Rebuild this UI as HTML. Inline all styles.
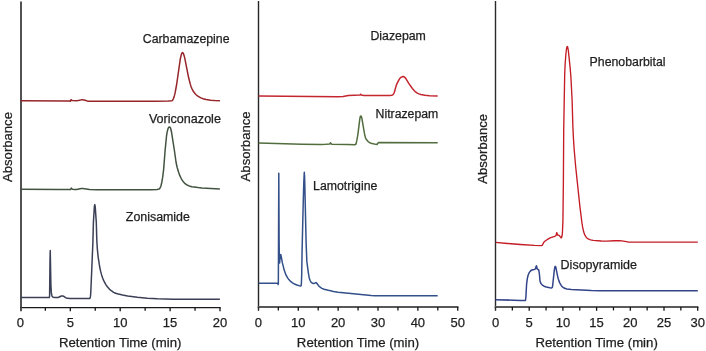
<!DOCTYPE html>
<html><head><meta charset="utf-8"><style>
html,body{margin:0;padding:0;background:#fff;}
svg{display:block;will-change:transform;}
.t{font-family:"Liberation Sans",sans-serif;font-size:13px;fill:#1e1e1e;stroke:#1e1e1e;stroke-width:0.25px;}
</style></head><body>
<svg width="706" height="351" viewBox="0 0 706 351">
<rect width="706" height="351" fill="#fff"/>
<line x1="21.0" y1="1.5" x2="21.0" y2="308.3" stroke="#525252" stroke-width="2.0"/>
<line x1="20.0" y1="307.6" x2="220.70000000000002" y2="307.6" stroke="#1a1a1a" stroke-width="1.4"/>
<line x1="21.00" y1="307.6" x2="21.00" y2="311.30" stroke="#525252" stroke-width="2.0"/>
<text x="20.40" y="327.1" text-anchor="middle" class="t">0</text>
<line x1="45.35" y1="307.6" x2="45.35" y2="310.80" stroke="#141414" stroke-width="1.3"/>
<line x1="70.30" y1="307.6" x2="70.30" y2="311.30" stroke="#141414" stroke-width="1.3"/>
<text x="70.30" y="327.1" text-anchor="middle" class="t">5</text>
<line x1="95.25" y1="307.6" x2="95.25" y2="310.80" stroke="#141414" stroke-width="1.3"/>
<line x1="120.20" y1="307.6" x2="120.20" y2="311.30" stroke="#141414" stroke-width="1.3"/>
<text x="120.20" y="327.1" text-anchor="middle" class="t">10</text>
<line x1="145.15" y1="307.6" x2="145.15" y2="310.80" stroke="#141414" stroke-width="1.3"/>
<line x1="170.10" y1="307.6" x2="170.10" y2="311.30" stroke="#141414" stroke-width="1.3"/>
<text x="170.10" y="327.1" text-anchor="middle" class="t">15</text>
<line x1="195.05" y1="307.6" x2="195.05" y2="310.80" stroke="#141414" stroke-width="1.3"/>
<line x1="220.00" y1="307.6" x2="220.00" y2="311.30" stroke="#141414" stroke-width="1.3"/>
<text x="220.00" y="327.1" text-anchor="middle" class="t">20</text>
<text x="120.20" y="346.9" text-anchor="middle" class="t" style="font-size:13.2px">Retention Time (min)</text>
<line x1="258.5" y1="1.0" x2="258.5" y2="308.0" stroke="#262626" stroke-width="1.4"/>
<line x1="257.8" y1="307.0" x2="458.45" y2="307.0" stroke="#585858" stroke-width="2.0"/>
<line x1="258.50" y1="307.0" x2="258.50" y2="310.80" stroke="#262626" stroke-width="1.4"/>
<text x="258.40" y="327.1" text-anchor="middle" class="t">0</text>
<line x1="278.33" y1="307.0" x2="278.33" y2="310.40" stroke="#141414" stroke-width="1.3"/>
<line x1="298.27" y1="307.0" x2="298.27" y2="310.80" stroke="#141414" stroke-width="1.3"/>
<text x="298.27" y="327.1" text-anchor="middle" class="t">10</text>
<line x1="318.20" y1="307.0" x2="318.20" y2="310.40" stroke="#141414" stroke-width="1.3"/>
<line x1="338.14" y1="307.0" x2="338.14" y2="310.80" stroke="#141414" stroke-width="1.3"/>
<text x="338.14" y="327.1" text-anchor="middle" class="t">20</text>
<line x1="358.07" y1="307.0" x2="358.07" y2="310.40" stroke="#141414" stroke-width="1.3"/>
<line x1="378.01" y1="307.0" x2="378.01" y2="310.80" stroke="#141414" stroke-width="1.3"/>
<text x="378.01" y="327.1" text-anchor="middle" class="t">30</text>
<line x1="397.94" y1="307.0" x2="397.94" y2="310.40" stroke="#141414" stroke-width="1.3"/>
<line x1="417.88" y1="307.0" x2="417.88" y2="310.80" stroke="#141414" stroke-width="1.3"/>
<text x="417.88" y="327.1" text-anchor="middle" class="t">40</text>
<line x1="437.81" y1="307.0" x2="437.81" y2="310.40" stroke="#141414" stroke-width="1.3"/>
<line x1="457.75" y1="307.0" x2="457.75" y2="310.80" stroke="#141414" stroke-width="1.3"/>
<text x="457.75" y="327.1" text-anchor="middle" class="t">50</text>
<text x="358.07" y="346.9" text-anchor="middle" class="t" style="font-size:13.2px">Retention Time (min)</text>
<line x1="495.5" y1="1.0" x2="495.5" y2="308.0" stroke="#2a2a2a" stroke-width="1.4"/>
<line x1="494.8" y1="307.0" x2="698.4000000000001" y2="307.0" stroke="#5a5a5a" stroke-width="2.0"/>
<line x1="495.50" y1="307.0" x2="495.50" y2="310.80" stroke="#2a2a2a" stroke-width="1.4"/>
<text x="495.50" y="327.1" text-anchor="middle" class="t">0</text>
<line x1="512.35" y1="307.0" x2="512.35" y2="310.40" stroke="#141414" stroke-width="1.3"/>
<line x1="529.20" y1="307.0" x2="529.20" y2="310.80" stroke="#141414" stroke-width="1.3"/>
<text x="529.20" y="327.1" text-anchor="middle" class="t">5</text>
<line x1="546.05" y1="307.0" x2="546.05" y2="310.40" stroke="#141414" stroke-width="1.3"/>
<line x1="562.90" y1="307.0" x2="562.90" y2="310.80" stroke="#141414" stroke-width="1.3"/>
<text x="562.90" y="327.1" text-anchor="middle" class="t">10</text>
<line x1="579.75" y1="307.0" x2="579.75" y2="310.40" stroke="#141414" stroke-width="1.3"/>
<line x1="596.60" y1="307.0" x2="596.60" y2="310.80" stroke="#141414" stroke-width="1.3"/>
<text x="596.60" y="327.1" text-anchor="middle" class="t">15</text>
<line x1="613.45" y1="307.0" x2="613.45" y2="310.40" stroke="#141414" stroke-width="1.3"/>
<line x1="630.30" y1="307.0" x2="630.30" y2="310.80" stroke="#141414" stroke-width="1.3"/>
<text x="630.30" y="327.1" text-anchor="middle" class="t">20</text>
<line x1="647.15" y1="307.0" x2="647.15" y2="310.40" stroke="#141414" stroke-width="1.3"/>
<line x1="664.00" y1="307.0" x2="664.00" y2="310.80" stroke="#141414" stroke-width="1.3"/>
<text x="664.00" y="327.1" text-anchor="middle" class="t">25</text>
<line x1="680.85" y1="307.0" x2="680.85" y2="310.40" stroke="#141414" stroke-width="1.3"/>
<line x1="697.70" y1="307.0" x2="697.70" y2="310.80" stroke="#141414" stroke-width="1.3"/>
<text x="697.70" y="327.1" text-anchor="middle" class="t">30</text>
<text x="596.60" y="346.9" text-anchor="middle" class="t" style="font-size:13.2px">Retention Time (min)</text>
<text x="0" y="0" class="t" style="font-size:13.117px" transform="translate(12.4,182.00) rotate(-90)">Absorbance</text>
<text x="0" y="0" class="t" style="font-size:13.117px" transform="translate(249.9,181.40) rotate(-90)">Absorbance</text>
<text x="0" y="0" class="t" style="font-size:13.061px" transform="translate(486.7,183.70) rotate(-90)">Absorbance</text>
<text x="142.80" y="43.4" class="t" style="font-size:12.299px">Carbamazepine</text>
<text x="148.90" y="122.8" class="t" style="font-size:12.592px">Voriconazole</text>
<text x="125.80" y="221.4" class="t" style="font-size:12.422px">Zonisamide</text>
<text x="370.40" y="40.4" class="t" style="font-size:12.333px">Diazepam</text>
<text x="375.60" y="118.2" class="t" style="font-size:12.277px">Nitrazepam</text>
<text x="313.10" y="189.7" class="t" style="font-size:12.304px">Lamotrigine</text>
<text x="589.60" y="66.0" class="t" style="font-size:12.328px">Phenobarbital</text>
<text x="560.60" y="269.4" class="t" style="font-size:12.509px">Disopyramide</text>
<path d="M20.60,100.80 L65.60,100.93 L69.50,101.00 L70.30,101.30 L71.10,99.70 L72.20,100.60 L76.85,100.66 L79.35,100.34 L81.35,99.87 L82.35,99.81 L85.10,100.32 L87.60,101.16 L92.35,101.27 L155.35,101.28 L168.35,101.09 L171.85,100.75 L172.35,100.57 L172.60,100.33 L173.60,98.26 L174.35,95.93 L175.10,92.90 L176.60,84.76 L180.35,58.73 L181.35,54.36 L182.10,52.96 L182.60,52.60 L183.10,53.05 L183.60,54.00 L184.60,57.40 L188.60,77.53 L190.35,84.39 L191.10,86.68 L192.10,89.05 L193.10,90.96 L194.35,92.79 L196.10,94.74 L197.85,96.13 L200.85,97.89 L203.10,98.78 L206.10,99.50 L210.60,100.18 L214.60,100.57 L219.90,100.80" fill="none" stroke="#972529" stroke-width="1.5" stroke-linejoin="round" stroke-linecap="butt"/>
<path d="M20.60,189.30 L60.10,189.40 L70.50,189.60 L71.30,188.10 L72.30,189.20 L74.35,189.45 L76.60,189.46 L81.35,188.53 L82.85,188.40 L89.60,189.57 L97.10,189.78 L151.10,189.69 L157.10,189.49 L159.00,189.10 L159.60,188.63 L160.20,187.80 L160.85,186.19 L161.60,183.27 L162.60,177.68 L163.60,169.79 L165.10,150.50 L166.50,136.20 L167.10,132.42 L168.10,128.42 L168.60,127.55 L169.10,127.09 L169.40,127.00 L170.10,127.43 L170.60,128.21 L171.60,132.53 L174.40,150.50 L176.10,162.50 L177.10,167.24 L178.60,172.29 L179.85,175.65 L181.35,178.79 L183.35,181.85 L185.10,183.67 L186.50,184.70 L189.10,185.91 L191.85,186.69 L198.10,187.58 L201.85,187.97 L219.90,189.00" fill="none" stroke="#435341" stroke-width="1.5" stroke-linejoin="round" stroke-linecap="butt"/>
<path d="M20.60,297.50 L49.20,297.50 L49.35,297.28 L49.60,296.00 L50.00,260.00 L50.25,250.50 L50.90,285.00 L51.35,292.88 L51.85,295.47 L52.35,296.65 L53.10,297.17 L53.85,297.39 L58.10,297.40 L58.60,297.27 L61.35,296.02 L62.10,295.90 L62.85,296.05 L64.10,296.55 L66.10,297.97 L69.60,298.49 L71.85,298.60 L89.60,298.60 L89.85,298.39 L90.35,296.95 L90.60,295.00 L90.85,291.00 L92.85,243.50 L93.40,222.40 L94.35,206.96 L94.60,205.19 L94.80,204.60 L95.20,206.50 L96.30,222.40 L96.80,240.00 L97.35,249.11 L98.10,256.55 L99.70,267.00 L100.60,271.15 L101.60,274.89 L102.60,277.96 L103.85,280.89 L105.85,284.55 L107.35,286.77 L109.35,289.09 L111.60,290.98 L113.60,292.31 L115.60,293.24 L118.35,294.09 L122.60,295.08 L127.60,295.95 L137.35,297.30 L147.35,298.25 L157.60,298.80 L173.35,299.15 L187.85,299.30 L219.90,299.30" fill="none" stroke="#3b4057" stroke-width="1.5" stroke-linejoin="round" stroke-linecap="butt"/>
<path d="M258.60,96.00 L338.10,96.74 L343.10,96.48 L348.35,95.47 L360.00,95.00 L360.60,94.20 L361.40,95.10 L363.85,95.49 L390.10,95.40 L391.35,95.30 L392.10,95.18 L392.60,94.92 L393.35,94.23 L393.85,93.41 L394.35,92.27 L396.35,85.10 L397.35,82.88 L399.35,79.16 L400.00,78.30 L401.10,77.28 L402.10,76.81 L403.10,76.60 L404.10,76.85 L405.10,77.53 L406.35,79.38 L408.60,83.19 L412.35,88.50 L415.10,91.55 L417.35,93.13 L418.85,93.84 L420.85,94.51 L424.85,95.29 L429.60,95.68 L437.70,95.90" fill="none" stroke="#c4262f" stroke-width="1.5" stroke-linejoin="round" stroke-linecap="butt"/>
<path d="M258.60,143.00 L301.85,144.23 L320.85,144.40 L325.60,144.33 L329.60,144.10 L330.50,142.80 L330.85,143.16 L331.35,144.01 L332.10,144.15 L347.35,144.60 L355.10,144.69 L355.85,144.24 L356.10,143.61 L356.85,140.38 L357.85,134.60 L359.85,118.66 L360.30,116.60 L360.80,116.00 L361.10,116.18 L361.40,116.60 L361.85,118.18 L364.35,132.95 L364.90,135.60 L365.60,138.02 L366.60,139.83 L368.10,141.56 L369.35,142.45 L370.85,143.15 L375.85,144.36 L377.00,144.50 L378.10,142.79 L378.40,142.60 L437.70,142.70" fill="none" stroke="#516d3e" stroke-width="1.5" stroke-linejoin="round" stroke-linecap="butt"/>
<path d="M258.60,283.30 L277.70,283.30 L278.10,284.60 L278.35,283.51 L278.80,173.30 L279.10,238.39 L279.35,261.90 L279.65,263.00 L280.10,257.00 L280.35,255.45 L280.70,254.40 L281.10,255.89 L282.35,262.63 L284.10,269.85 L285.85,274.66 L287.60,277.87 L288.85,279.57 L290.60,281.40 L292.10,282.63 L293.85,283.72 L296.85,285.05 L299.35,285.84 L300.60,286.00 L300.85,285.92 L301.30,285.30 L301.70,275.00 L302.10,249.78 L303.35,197.78 L303.85,180.68 L304.30,172.30 L304.60,177.00 L304.85,186.36 L306.10,242.46 L306.85,261.39 L308.35,272.83 L309.35,278.54 L310.35,281.10 L311.35,282.48 L312.60,283.28 L313.50,283.50 L314.80,283.20 L315.60,282.73 L316.10,282.61 L316.60,283.03 L318.85,286.04 L319.85,286.97 L321.85,288.34 L324.10,289.23 L328.35,290.33 L333.60,291.42 L338.10,292.15 L343.35,292.78 L371.10,295.52 L374.85,295.78 L437.70,295.80" fill="none" stroke="#34508a" stroke-width="1.5" stroke-linejoin="round" stroke-linecap="butt"/>
<path d="M495.60,242.40 L507.35,243.48 L520.35,244.50 L534.60,245.40 L541.40,245.60 L542.35,245.16 L543.85,242.26 L544.85,241.25 L545.85,240.49 L548.35,238.88 L550.10,237.93 L554.60,236.27 L556.00,235.60 L556.70,232.60 L556.85,232.77 L557.60,235.00 L558.85,235.31 L559.35,235.57 L561.10,237.80 L561.35,237.89 L561.60,237.47 L562.10,235.52 L562.40,233.00 L562.90,222.00 L563.40,180.00 L563.70,130.00 L564.70,74.20 L565.10,64.69 L565.85,54.22 L566.50,49.00 L566.85,47.42 L567.10,46.63 L567.30,46.40 L567.60,46.89 L567.85,47.84 L568.35,50.67 L570.10,67.31 L570.85,76.25 L572.10,100.00 L572.85,126.08 L573.35,136.85 L574.10,148.50 L575.60,165.99 L579.85,206.07 L581.85,222.20 L582.60,226.96 L583.60,231.54 L584.35,233.89 L585.60,236.44 L586.60,237.69 L587.60,238.57 L588.85,239.18 L590.60,239.79 L593.20,240.30 L601.35,240.97 L606.85,241.10 L614.35,240.71 L619.35,240.61 L621.85,240.88 L627.85,241.96 L629.35,242.10 L697.80,242.10" fill="none" stroke="#c41c26" stroke-width="1.35" stroke-linejoin="round" stroke-linecap="butt"/>
<path d="M495.60,299.70 L520.35,300.43 L525.35,300.47 L525.60,299.43 L525.90,297.00 L526.60,284.06 L527.35,278.36 L528.10,275.26 L529.10,272.82 L530.10,271.41 L530.85,270.62 L531.80,270.00 L534.30,269.40 L535.50,268.80 L536.10,266.52 L536.40,265.80 L536.60,266.23 L537.20,268.90 L537.60,269.27 L538.35,269.64 L538.70,270.00 L538.85,270.41 L539.40,274.00 L540.00,281.00 L540.85,283.28 L541.35,284.01 L542.35,285.02 L544.10,286.21 L546.35,287.03 L549.85,287.75 L551.60,287.89 L552.35,287.41 L552.60,285.98 L554.35,269.89 L554.80,267.30 L555.10,266.59 L555.30,266.40 L555.60,266.79 L555.85,267.45 L557.85,277.35 L558.85,280.63 L559.85,283.11 L561.35,285.64 L562.60,287.10 L564.60,288.27 L566.85,288.98 L571.35,289.40 L591.35,290.47 L599.85,290.68 L697.80,290.75" fill="none" stroke="#33448a" stroke-width="1.5" stroke-linejoin="round" stroke-linecap="butt"/>
</svg>
</body></html>
